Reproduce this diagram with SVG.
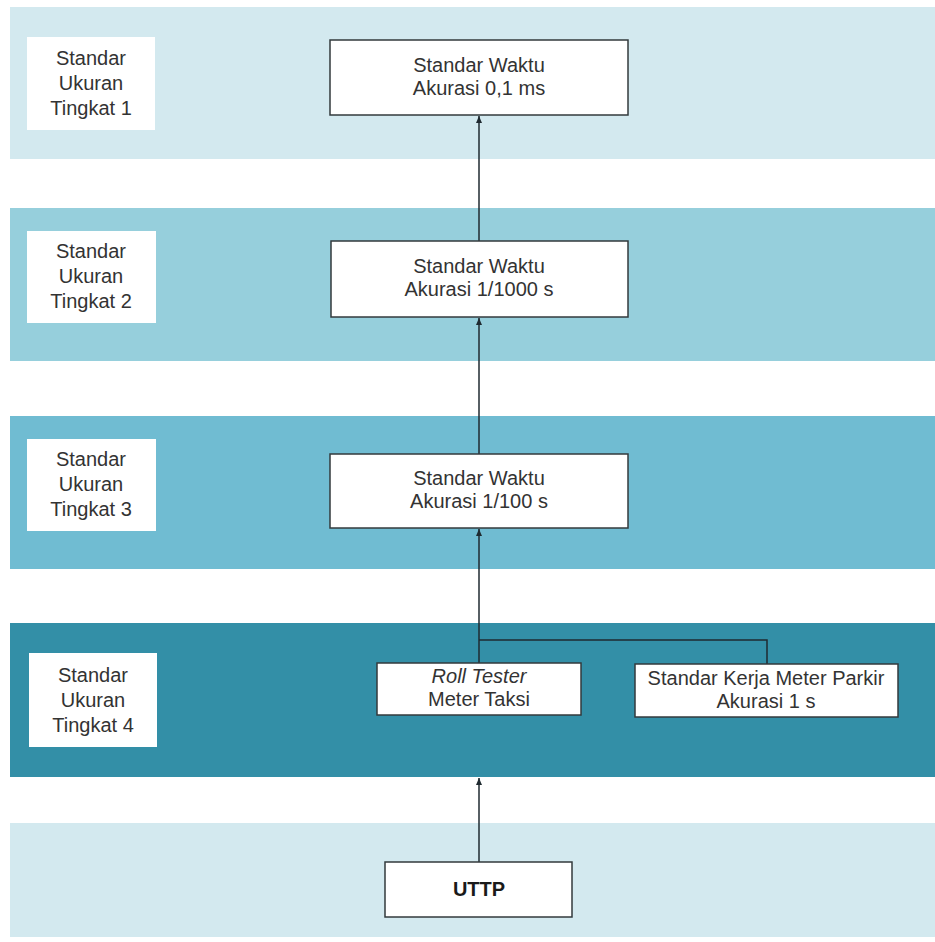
<svg xmlns="http://www.w3.org/2000/svg" width="935" height="942" viewBox="0 0 935 942">
  <style>
    .t { font-family: "Liberation Sans", Arial, sans-serif; font-size: 20px; fill: #333333; text-anchor: middle; }
    .b { font-weight: bold; fill: #1a1a1a; }
    .lbl { fill: #ffffff; }
    .node { fill: #ffffff; stroke: #333a3d; stroke-width: 1.5; }
    .wire { fill: none; stroke: #1f2a30; stroke-width: 1.5; }
  </style>
  <defs>
    <marker id="arrow" markerWidth="8" markerHeight="8" refX="7" refY="4" orient="auto" markerUnits="userSpaceOnUse">
      <path d="M0,1 L7,4 L0,7 Z" fill="#1f2a30"/>
    </marker>
  </defs>

  <rect width="935" height="942" fill="#ffffff"/>

  <!-- tier bands -->
  <g id="bands">
    <rect x="10" y="7" width="925" height="152" fill="#d3e9ef"/>
    <rect x="10" y="208" width="925" height="153" fill="#96cfdc"/>
    <rect x="10" y="416" width="925" height="153" fill="#70bcd2"/>
    <rect x="10" y="623" width="925" height="154" fill="#338fa7"/>
    <rect x="10" y="823" width="925" height="114" fill="#d3e9ef"/>
  </g>

  <!-- tier labels -->
  <g id="label-1">
    <rect class="lbl" x="27" y="37" width="128" height="93"/>
    <text class="t" x="91" y="65">Standar</text>
    <text class="t" x="91" y="90">Ukuran</text>
    <text class="t" x="91" y="115">Tingkat 1</text>
  </g>
  <g id="label-2">
    <rect class="lbl" x="27" y="231" width="129" height="92"/>
    <text class="t" x="91" y="258">Standar</text>
    <text class="t" x="91" y="283">Ukuran</text>
    <text class="t" x="91" y="308">Tingkat 2</text>
  </g>
  <g id="label-3">
    <rect class="lbl" x="27" y="439" width="129" height="92"/>
    <text class="t" x="91" y="466">Standar</text>
    <text class="t" x="91" y="491">Ukuran</text>
    <text class="t" x="91" y="516">Tingkat 3</text>
  </g>
  <g id="label-4">
    <rect class="lbl" x="29" y="653" width="128" height="94"/>
    <text class="t" x="93" y="682">Standar</text>
    <text class="t" x="93" y="707">Ukuran</text>
    <text class="t" x="93" y="732">Tingkat 4</text>
  </g>

  <!-- connectors -->
  <g id="connectors">
    <line class="wire" x1="479" y1="241" x2="479" y2="116" marker-end="url(#arrow)"/>
    <line class="wire" x1="479" y1="454" x2="479" y2="318" marker-end="url(#arrow)"/>
    <line class="wire" x1="479" y1="663" x2="479" y2="529" marker-end="url(#arrow)"/>
    <polyline class="wire" points="479,640 767,640 767,664"/>
    <line class="wire" x1="479" y1="862" x2="479" y2="778" marker-end="url(#arrow)"/>
  </g>

  <!-- nodes -->
  <g id="node-waktu-01ms">
    <rect class="node" x="330" y="40" width="298" height="75"/>
    <text class="t" x="479" y="72">Standar Waktu</text>
    <text class="t" x="479" y="95">Akurasi 0,1 ms</text>
  </g>
  <g id="node-waktu-1000">
    <rect class="node" x="331" y="241" width="297" height="76"/>
    <text class="t" x="479" y="273">Standar Waktu</text>
    <text class="t" x="479" y="296">Akurasi 1/1000 s</text>
  </g>
  <g id="node-waktu-100">
    <rect class="node" x="330" y="454" width="298" height="74"/>
    <text class="t" x="479" y="485">Standar Waktu</text>
    <text class="t" x="479" y="508">Akurasi 1/100 s</text>
  </g>
  <g id="node-roll-tester">
    <rect class="node" x="377" y="663" width="204" height="52"/>
    <text class="t" x="479" y="683"><tspan font-style="italic">Roll Tester</tspan></text>
    <text class="t" x="479" y="706">Meter Taksi</text>
  </g>
  <g id="node-meter-parkir">
    <rect class="node" x="635" y="664" width="263" height="53"/>
    <text class="t" x="766" y="685">Standar Kerja Meter Parkir</text>
    <text class="t" x="766" y="708">Akurasi 1 s</text>
  </g>
  <g id="node-uttp">
    <rect class="node" x="385" y="862" width="187" height="55"/>
    <text class="t b" x="479" y="896">UTTP</text>
  </g>
</svg>
